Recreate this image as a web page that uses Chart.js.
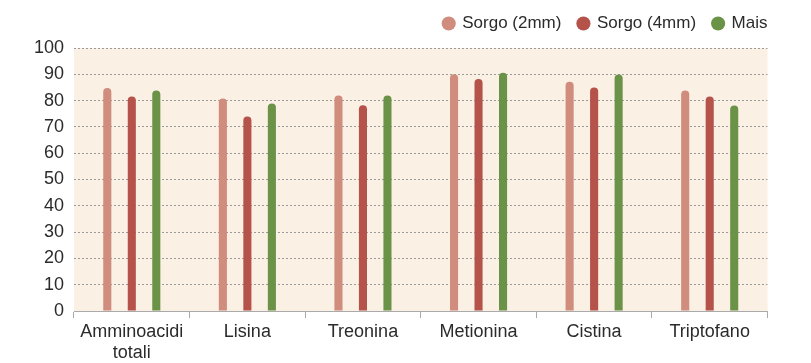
<!DOCTYPE html>
<html>
<head>
<meta charset="utf-8">
<script src="https://cdn.jsdelivr.net/npm/chart.js@4"></script>
<style>
  body { margin: 0; background: #fff; }
</style>
</head>
<body>
<canvas id="myChart" width="811" height="363"></canvas>
<script>
const categorie = [['Amminoacidi', 'totali'], 'Lisina', 'Treonina', 'Metionina', 'Cistina', 'Triptofano'];
const sorgo2mm = [84.8, 80.8, 81.9, 90.0, 87.2, 83.8];
const sorgo4mm = [81.6, 74.0, 78.2, 88.2, 85.0, 81.6];
const mais = [83.8, 78.9, 81.9, 90.6, 89.9, 78.1];
const yMin = 0, yMax = 100, yStep = 10;

const font = '"Liberation Sans", Arial, sans-serif';

// sfondo dell'area del grafico
const sfondo = {
    id: 'sfondo',
    beforeDraw(chart) {
        const a = chart.chartArea;
        const c = chart.ctx;
        c.save();
        c.fillStyle = '#fbf0e4';
        c.fillRect(a.left, a.top, a.right - a.left, a.bottom - a.top);
        c.restore();
    }
};

// altezza fissa della legenda e spostamento a destra
const legendaFissa = {
    id: 'legendaFissa',
    beforeInit(chart) {
        const fit = chart.legend.fit;
        chart.legend.fit = function () {
            fit.call(this);
            this.height = 48;
        };
    },
    afterLayout(chart) {
        chart.legend.left += 17;
        chart.legend.right += 17;
        chart.legend.top -= 2;
    }
};

const ctx = document.getElementById('myChart').getContext('2d');

const data = {
    labels: categorie,
    datasets: [
        { label: 'Sorgo (2mm)', data: sorgo2mm, backgroundColor: '#d08c7c' },
        { label: 'Sorgo (4mm)', data: sorgo4mm, backgroundColor: '#b5524a' },
        { label: 'Mais', data: mais, backgroundColor: '#6b9347' }
    ]
};

const myChart = new Chart(ctx, {
    type: 'bar',
    data: data,
    options: {
        responsive: false,
        animation: false,
        layout: { padding: { left: 0, right: 43.5, top: 0, bottom: 0 } },
        datasets: {
            bar: {
                categoryPercentage: 0.636,
                barPercentage: 0.33,
                borderRadius: 4,
                borderSkipped: 'start'
            }
        },
        plugins: {
            legend: {
                position: 'top',
                align: 'end',
                labels: {
                    usePointStyle: true,
                    pointStyle: 'circle',
                    boxWidth: 10,
                    boxHeight: 10,
                    padding: 17,
                    color: '#2b2b2b',
                    font: { family: font, size: 17 }
                }
            },
            tooltip: { enabled: false }
        },
        scales: {
            x: {
                afterFit(scale) { scale.height = 52; },
                grid: {
                    offset: true,
                    drawOnChartArea: false,
                    drawTicks: true,
                    tickLength: 7,
                    color: '#aaaaaa'
                },
                border: { display: true, color: '#aaaaaa', width: 1 },
                ticks: {
                    color: '#2b2b2b',
                    padding: 3,
                    maxRotation: 0,
                    font: { family: font, size: 18, lineHeight: 1.2 }
                }
            },
            y: {
                min: yMin,
                max: yMax,
                afterFit(scale) { scale.width = 74; },
                grid: {
                    drawTicks: false,
                    color: '#9a9a9a',
                    lineWidth: 1
                },
                border: { display: false, dash: [2, 2] },
                ticks: {
                    stepSize: yStep,
                    color: '#2b2b2b',
                    padding: 10,
                    font: { family: font, size: 18 }
                }
            }
        }
    },
    plugins: [sfondo, legendaFissa]
});
</script>
</body>
</html>
